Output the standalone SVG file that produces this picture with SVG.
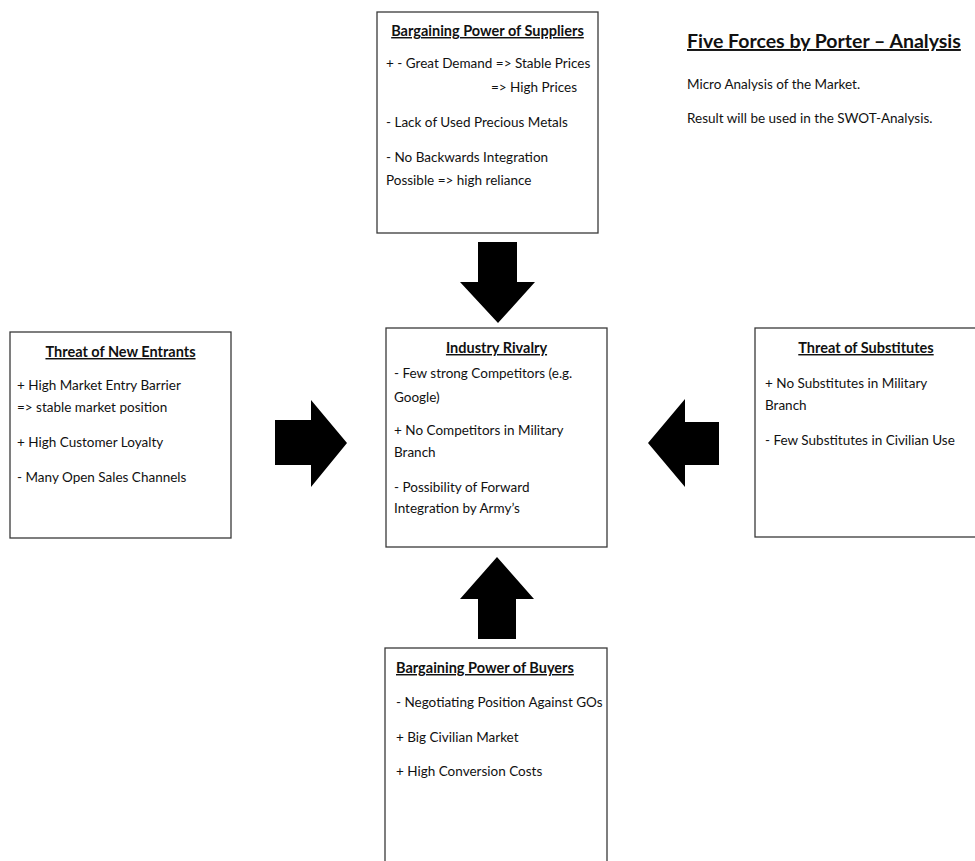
<svg xmlns="http://www.w3.org/2000/svg" width="975" height="861" viewBox="0 0 975 861">
<style>
.box{fill:#fff;stroke:#3a3a3a;stroke-width:1.3}
.t{font-family:Lato,"Liberation Sans",sans-serif;font-size:13.5px;fill:#111}
.h{font-family:Lato,"Liberation Sans",sans-serif;font-size:14.5px;font-weight:bold;fill:#111;text-decoration:underline}
.mid{text-anchor:middle}
.arrow{fill:#000}
</style>
<rect width="975" height="861" fill="#fff"/>
<g id="header">
<text x="687" y="48" font-family="Lato,'Liberation Sans',sans-serif" font-size="19.5" font-weight="bold" fill="#111" text-decoration="underline">Five Forces by Porter – Analysis</text>
<text class="t" x="687" y="89" font-size="14.5">Micro Analysis of the Market.</text>
<text class="t" x="687" y="123" font-size="14.5">Result will be used in the SWOT-Analysis.</text>
</g>
<g id="suppliers">
<rect class="box" x="377" y="12" width="221" height="221"/>
<text class="h mid" x="487.5" y="36">Bargaining Power of Suppliers</text>
<text class="t" x="386" y="68">+ - Great Demand =&gt; Stable Prices</text>
<text class="t" x="491" y="92">=&gt; High Prices</text>
<text class="t" x="386" y="127">- Lack of Used Precious Metals</text>
<text class="t" x="386" y="162">- No Backwards Integration</text>
<text class="t" x="386" y="185">Possible =&gt; high reliance</text>
</g>
<g id="entrants">
<rect class="box" x="10" y="332" width="221" height="206"/>
<text class="h mid" x="120.5" y="357">Threat of New Entrants</text>
<text class="t" x="17" y="390">+ High Market Entry Barrier</text>
<text class="t" x="17" y="412">=&gt; stable market position</text>
<text class="t" x="17" y="447">+ High Customer Loyalty</text>
<text class="t" x="17" y="482">- Many Open Sales Channels</text>
</g>
<g id="rivalry">
<rect class="box" x="386" y="328" width="221" height="219"/>
<text class="h mid" x="496.5" y="353">Industry Rivalry</text>
<text class="t" x="394" y="378">- Few strong Competitors (e.g.</text>
<text class="t" x="394" y="402">Google)</text>
<text class="t" x="394" y="435">+ No Competitors in Military</text>
<text class="t" x="394" y="457">Branch</text>
<text class="t" x="394" y="492">- Possibility of Forward</text>
<text class="t" x="394" y="513">Integration by Army’s</text>
</g>
<g id="substitutes">
<rect class="box" x="755" y="328" width="230" height="209"/>
<text class="h mid" x="866" y="353">Threat of Substitutes</text>
<text class="t" x="765" y="388">+ No Substitutes in Military</text>
<text class="t" x="765" y="410">Branch</text>
<text class="t" x="765" y="445">- Few Substitutes in Civilian Use</text>
</g>
<g id="buyers">
<rect class="box" x="385" y="648" width="222" height="230"/>
<text class="h" x="396" y="673">Bargaining Power of Buyers</text>
<text class="t" x="396" y="707">- Negotiating Position Against GOs</text>
<text class="t" x="396" y="742">+ Big Civilian Market</text>
<text class="t" x="396" y="776">+ High Conversion Costs</text>
</g>
<g id="connectors">
<polygon class="arrow" points="478,242 517,242 517,282 535,282 498,323 460,282 478,282"/>
<polygon class="arrow" points="497,557 534,599 516,599 516,639 478,639 478,599 460,599"/>
<polygon class="arrow" points="275,420 311,420 311,400 347,443 311,487 311,465 275,465"/>
<polygon class="arrow" points="648,443 685,399 685,422 719,422 719,465 685,465 685,487"/>
</g>
</svg>
